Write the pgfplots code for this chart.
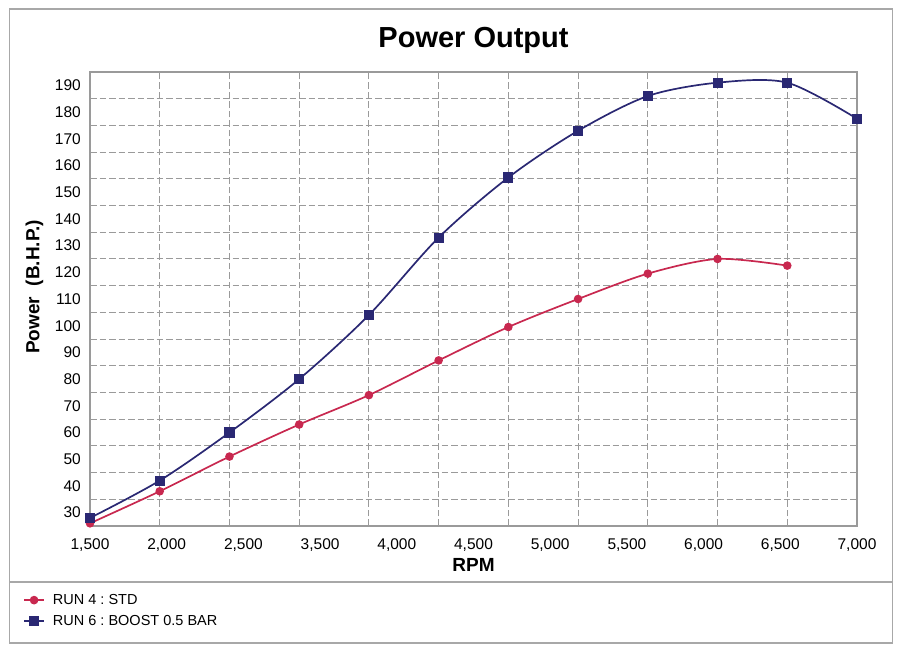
\documentclass[border=0pt]{standalone}
\usepackage{fontspec}
\setmainfont{Liberation Sans}
\usepackage{pgfplots}
\pgfplotsset{compat=1.18}
\frenchspacing
\definecolor{runblue}{HTML}{2A2873}
\definecolor{runred}{HTML}{C8284F}
\definecolor{gridgray}{HTML}{9A9A9A}
\definecolor{framegray}{HTML}{A8A8A8}
\begin{document}
\begin{tikzpicture}[x=1pt,y=1pt]
\path[use as bounding box] (0,0) rectangle (902,652);
\draw[framegray, line width=1.2pt] (9.5,9) rectangle (892.5,643);
\draw[framegray, line width=1.2pt] (9.5,70) -- (892.5,70);
\begin{axis}[
  at={(90pt,126pt)}, anchor=south west,
  scale only axis, width=767pt, height=454pt,
  xmin=0, xmax=11, ymin=25, ymax=195,
  axis line style={gridgray, line width=1.2pt},
  xtick={0,1.1,2.2,3.3,4.4,5.5,6.6,7.7,8.8,9.9,11},
  xticklabels={{1,500},{2,000},{2,500},{3,500},{4,000},{4,500},{5,000},{5,500},{6,000},{6,500},{7,000}},
  minor xtick={1,2,3,4,5,6,7,8,9,10},
  ytick={30,40,...,190},
  minor ytick={35,45,...,185},
  xmajorgrids=false, ymajorgrids=false,
  xminorgrids=true, yminorgrids=true,
  minor grid style={gridgray, line width=1pt, dash pattern=on 6.5pt off 3pt},
  major tick length=0pt, minor tick length=0pt,
  /pgf/number format/assume math mode=true,
  ticklabel style={font=\fontsize{15.5}{18}\selectfont},
  xticklabel style={anchor=center, inner sep=0pt, yshift=-19pt},
  yticklabel style={anchor=east, inner sep=0pt, xshift=-9pt},
  legend style={at={(axis description cs:-0.0874,-0.186)}, anchor=west,
    draw=none, fill=none, inner sep=0pt, row sep=7pt,
    font=\fontsize{14.5}{17}\selectfont, cells={anchor=west},
    nodes={inner sep=1pt},
    /tikz/every odd column/.append style={column sep=7pt}},
  legend image code/.code={\draw[#1, line width=1.8pt, mark repeat=2, mark phase=2] plot coordinates {(0pt,0pt) (10pt,0pt) (20pt,0pt)};},
  clip=false,
]
\addplot[runred, line width=1.7pt, smooth, mark=*, mark size=3.4pt, mark options={fill=runred, draw=runred}]
  coordinates {(0,26) (1,38) (2,51) (3,63) (4,74) (5,87) (6,99.5) (7,110) (8,119.5) (9,125) (10,122.5)};
\addlegendentry{RUN 4 : STD}
\addplot[runblue, line width=1.7pt, smooth, mark=square*, mark size=4.2pt, mark options={fill=runblue, draw=runblue}]
  coordinates {(0,28) (1,42) (2,60) (3,80) (4,104) (5,133) (6,155.5) (7,173) (8,186) (9,191) (10,191) (11,177.5)};
\addlegendentry{RUN 6 : BOOST 0.5 BAR}
\end{axis}
\node at (473.5,612) {\fontsize{29}{34}\selectfont\bfseries Power Output};
\node at (473.5,87) {\fontsize{19}{22}\selectfont\bfseries RPM};
\node[rotate=90] at (34.5,365) {\fontsize{19}{22}\selectfont\bfseries Power\ \ (B.H.P.)};
\end{tikzpicture}
\end{document}
